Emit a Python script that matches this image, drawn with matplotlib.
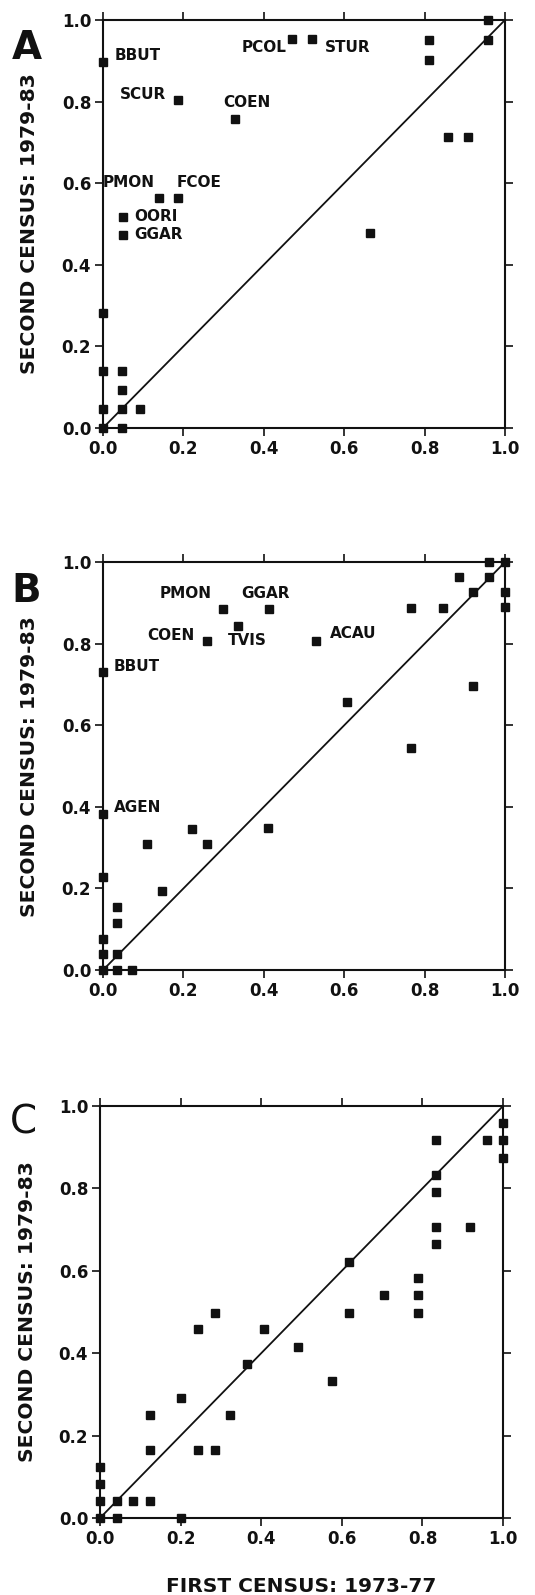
import matplotlib
matplotlib.use("Agg")
import matplotlib.pyplot as plt

plt.rcParams['font.family'] = ['DejaVu Sans']
plt.rcParams['font.weight'] = 'bold'

# Panel A: proportion occupied, first census vs second census
a_x = [0.958, 0.958, 0.47, 0.52, 0.81, 0.81, 0.0, 0.186, 0.328, 0.858, 0.908,
       0.139, 0.186, 0.049, 0.049, 0.664,
       0.0, 0.0, 0.047, 0.047, 0.0, 0.047, 0.092, 0.0, 0.047]
a_y = [1.0, 0.951, 0.953, 0.953, 0.951, 0.902, 0.897, 0.804, 0.757, 0.713, 0.713,
       0.564, 0.564, 0.518, 0.473, 0.477,
       0.282, 0.14, 0.14, 0.093, 0.047, 0.047, 0.047, 0.0, 0.0]
a_labels = ["BBUT", "SCUR", "COEN", "PCOL", "STUR", "PMON", "FCOE", "OORI", "GGAR"]
a_label_x = [0.0, 0.186, 0.328, 0.47, 0.52, 0.139, 0.186, 0.049, 0.049]
a_label_y = [0.897, 0.804, 0.757, 0.953, 0.953, 0.564, 0.564, 0.518, 0.473]

# Panel B
b_x = [0.96, 1.0, 0.886, 0.96, 0.92, 1.0, 0.766, 0.845, 1.0,
       0.299, 0.413, 0.335, 0.259, 0.529, 0.0, 0.607, 0.921, 0.766,
       0.0, 0.221, 0.411, 0.109, 0.258, 0.146, 0.0, 0.034, 0.034,
       0.0, 0.0, 0.034, 0.0, 0.034, 0.071]
b_y = [1.0, 1.0, 0.963, 0.963, 0.926, 0.926, 0.887, 0.887, 0.89,
       0.885, 0.885, 0.843, 0.806, 0.806, 0.73, 0.657, 0.696, 0.544,
       0.382, 0.345, 0.348, 0.309, 0.309, 0.194, 0.228, 0.155, 0.116,
       0.076, 0.039, 0.039, 0.0, 0.0, 0.0]
b_labels = ["PMON", "GGAR", "COEN", "TVIS", "ACAU", "BBUT", "AGEN"]
b_label_x = [0.299, 0.413, 0.259, 0.335, 0.529, 0.0, 0.0]
b_label_y = [0.885, 0.885, 0.806, 0.843, 0.806, 0.73, 0.382]

# Panel C
c_x = [1.0, 1.0, 1.0, 0.96, 0.834, 0.834, 0.834, 0.834, 0.834, 0.918,
       0.618, 0.79, 0.79, 0.705, 0.79, 0.618, 0.284, 0.244, 0.408,
       0.492, 0.364, 0.575, 0.202, 0.123, 0.323, 0.123, 0.244, 0.284,
       0.0, 0.0, 0.0, 0.041, 0.082, 0.123, 0.0, 0.041, 0.2]
c_y = [0.958, 0.917, 0.874, 0.917, 0.917, 0.833, 0.791, 0.707, 0.665, 0.707,
       0.621, 0.582, 0.541, 0.541, 0.498, 0.498, 0.497, 0.459, 0.459,
       0.415, 0.374, 0.333, 0.291, 0.25, 0.25, 0.165, 0.165, 0.165,
       0.124, 0.083, 0.041, 0.041, 0.041, 0.041, 0.0, 0.0, 0.0]

ticks = [0.0, 0.2, 0.4, 0.6, 0.8, 1.0]

fig = plt.figure(figsize=(5.35, 15.95), dpi=100)
left, width = 0.1925, 0.7515
ax_a = fig.add_axes([left, 0.7317, width, 0.2558])
ax_b = fig.add_axes([left, 0.3918, width, 0.2558])
ax_c = fig.add_axes([0.187, 0.0483, 0.7533, 0.2583])

# label offsets in points (ha, dx, dy)
a_off = [("left", 8.6, 5), ("right", -8.6, 3.6), ("center", 8.6, 12),
         ("right", -3.6, -5.8), ("left", 9.4, -5.8), ("right", -2.9, 10.8),
         ("left", -0.7, 10.8), ("left", 8, 0), ("left", 8, 0)]
b_off = [("right", -8.6, 10.8), ("center", -2.2, 10.8), ("right", -9.4, 4.3),
         ("left", -7.2, -10), ("left", 10, 5.8), ("left", 8, 4.3), ("left", 8, 5)]

panels = [(ax_a, a_x, a_y, "A", "bold", a_labels, a_label_x, a_label_y, a_off),
          (ax_b, b_x, b_y, "B", "bold", b_labels, b_label_x, b_label_y, b_off),
          (ax_c, c_x, c_y, "C", "normal", [], [], [], [])]

for ax, xs, ys, letter, lw, labels, lx, ly, offs in panels:
    ax.plot([0, 1], [0, 1], color="#111111", lw=1.3, zorder=2)
    ax.plot(xs, ys, linestyle="none", marker="s", ms=6.2, color="#111111",
            clip_on=False, zorder=3)
    for name, x, y, (ha, dx, dy) in zip(labels, lx, ly, offs):
        ax.annotate(name, (x, y), xytext=(dx, dy), textcoords="offset points",
                    ha=ha, va="center", fontsize=11, fontweight="bold",
                    color="#111111")
    ax.set_xlim(0, 1)
    ax.set_ylim(0, 1)
    ax.set_xticks(ticks)
    ax.set_yticks(ticks)
    ax.set_xticklabels([f"{t:.1f}" for t in ticks])
    ax.set_yticklabels([f"{t:.1f}" for t in ticks])
    ax.tick_params(direction="out", length=5.5, width=1.2, labelsize=12,
                   top=True, right=True, pad=3, colors="#111111")
    for s in ax.spines.values():
        s.set_linewidth(1.5)
        s.set_color("#111111")
    ax.set_ylabel("SECOND CENSUS: 1979-83", fontsize=14.6, fontweight="bold",
                  labelpad=16, color="#111111")
    ax.text(-0.19, 0.93 if letter != "C" else 0.96, letter, transform=ax.transAxes,
            fontsize=28, fontweight=lw, ha="center", va="center",
            color="#111111")

ax_c.set_xlabel("FIRST CENSUS: 1973-77", fontsize=14.5, fontweight="bold",
                labelpad=21, color="#111111")

fig.savefig("out.png", dpi=100)
